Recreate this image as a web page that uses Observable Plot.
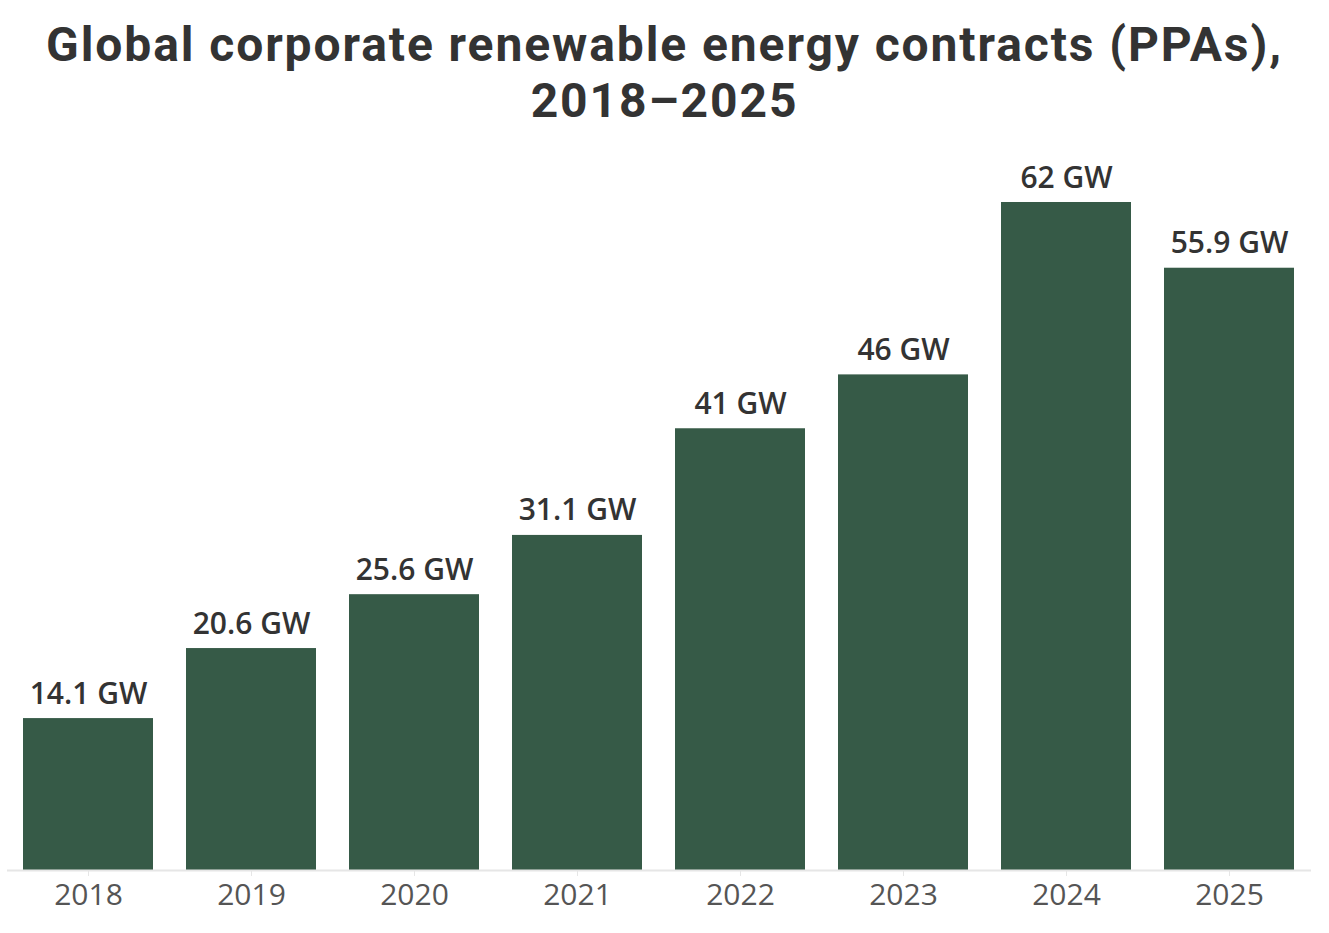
<!DOCTYPE html>
<html>
<head>
<meta charset="utf-8">
<script src="https://cdn.jsdelivr.net/npm/d3@7"></script>
<script src="https://cdn.jsdelivr.net/npm/@observablehq/plot@0.6"></script>
<style>
  html, body { margin: 0; padding: 0; background: #fff; }
  body { width: 1329px; height: 933px; overflow: hidden; font-family: "Open Sans", sans-serif; position: relative; }
  .t { position: absolute; left: 0; width: 1329px; text-align: center; font-family: Roboto, "Open Sans", sans-serif; font-size: 48px; line-height: 56px; height: 56px; font-weight: 700; color: #333; white-space: nowrap; letter-spacing: 1.9px; }
  #t1 { top: 17px; }
  #t2 { top: 73px; }
  #chart { position: absolute; left: 0; top: 140px; }
</style>
</head>
<body>
<div class="t" id="t1">Global corporate renewable energy contracts (PPAs),</div>
<div class="t" id="t2">2018–2025</div>
<div id="chart"></div>
<script>
const years = ["2018", "2019", "2020", "2021", "2022", "2023", "2024", "2025"];
const capacityGW = [14.1, 20.6, 25.6, 31.1, 41, 46, 62, 55.9];
const labels = ["14.1 GW", "20.6 GW", "25.6 GW", "31.1 GW", "41 GW", "46 GW", "62 GW", "55.9 GW"];

const data = years.map((y, i) => ({year: y, value: capacityGW[i], label: labels[i]}));

const chart = Plot.plot({
  width: 1329,
  height: 780,
  marginLeft: 7,
  marginRight: 18,
  marginTop: 62,
  marginBottom: 50,
  style: {fontFamily: "Open Sans, sans-serif", background: "transparent"},
  x: {domain: years, paddingInner: 0.2, paddingOuter: 0.1, label: null},
  y: {domain: [0, 62], axis: null},
  marks: [
    Plot.barY(data, {x: "year", y: "value", fill: "#365a47"}),
    Plot.ruleY([0], {stroke: "#e6e6e6", strokeWidth: 2}),
    Plot.axisX({tickSize: 6, tickPadding: 7, fontSize: 30, stroke: "#e6e6e6", color: "#555", label: null, tickFormat: d => d}),
    Plot.text(data, {x: "year", y: "value", text: "label", lineAnchor: "bottom", dy: -15, fontSize: 30, fontWeight: 600, fill: "#333"})
  ]
});
document.getElementById("chart").appendChild(chart);
</script>
</body>
</html>
